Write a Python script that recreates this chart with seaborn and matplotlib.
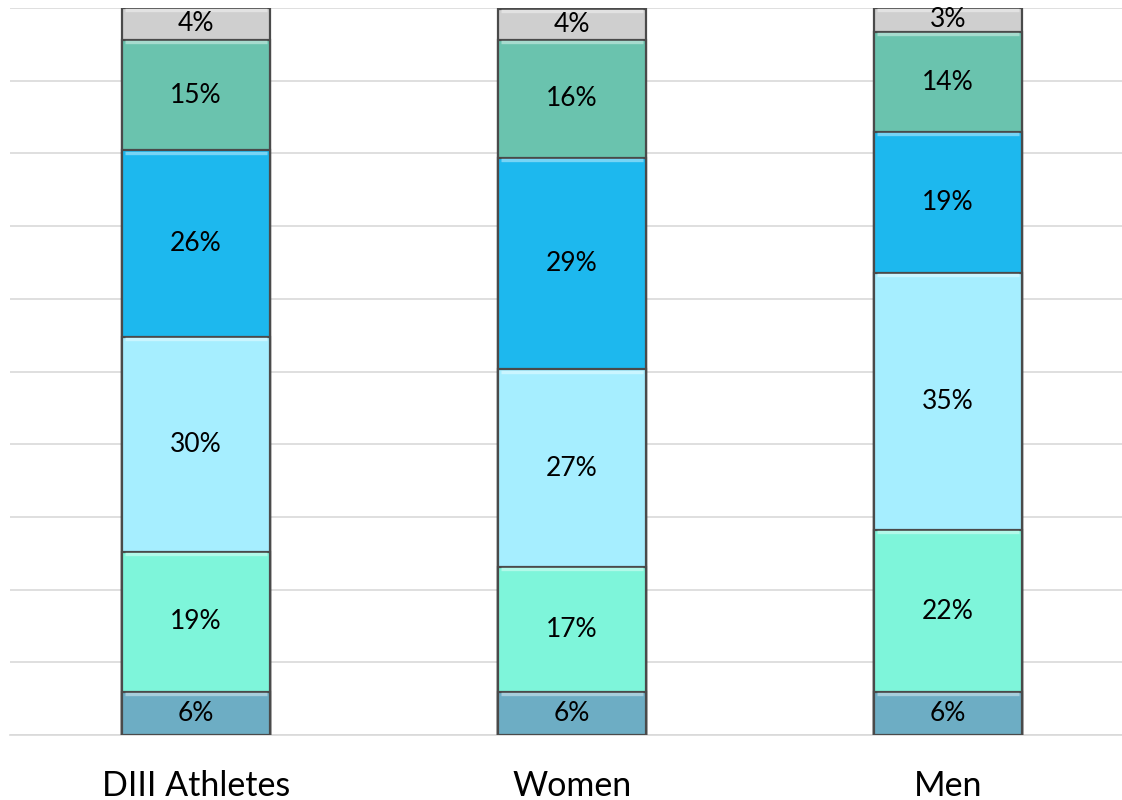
import matplotlib
matplotlib.use("Agg")
import matplotlib.pyplot as plt
import seaborn as sns
import numpy as np
import pandas as pd
from matplotlib.colors import to_rgb

categories = ["DIII Athletes", "Women", "Men"]
seg1 = [5.9, 5.9, 5.9]
seg2 = [19.3, 17.2, 22.3]
seg3 = [29.6, 27.2, 35.4]
seg4 = [25.6, 29.1, 19.3]
seg5 = [15.2, 16.2, 13.8]
seg6 = [4.4, 4.3, 3.3]

series = [seg1, seg2, seg3, seg4, seg5, seg6]
colors = ["#6DADC4", "#7EF5DA", "#A6EEFF", "#1DB8EE", "#6AC3AE", "#CFCFCF"]

sns.set_theme(style="white")
plt.rcParams["font.family"] = ["Lato", "DejaVu Sans"]

fig = plt.figure(figsize=(11.22, 8), dpi=100)
ax = fig.add_axes([10 / 1122, 1 - 735 / 800, 1 - 10 / 1122, (735 - 8) / 800])

vals = np.array(series, dtype=float)
cum = np.cumsum(vals, axis=0)

# draw from top layer down so lower layers cover upper ones
for i in range(len(series) - 1, -1, -1):
    df = pd.DataFrame({"cat": categories, "v": cum[i]})
    n_before = len(ax.patches)
    sns.barplot(data=df, x="cat", y="v", color=colors[i], width=0.394,
                edgecolor="#4A4A4A", linewidth=1.6, saturation=1, ax=ax, zorder=3)
    # bevel highlight along the top edge of each segment
    light = tuple(min(1, c + 0.4 * (1 - c)) for c in to_rgb(colors[i]))
    for p in ax.patches[n_before:]:
        x0 = p.get_x()
        w = p.get_width()
        top = p.get_y() + p.get_height()
        ax.plot([x0 + 0.008, x0 + w - 0.008], [top - 0.3, top - 0.3],
                color=light, linewidth=2.4, zorder=4, solid_capstyle="butt")

# labels
for i in range(len(series)):
    for j in range(len(categories)):
        mid = cum[i][j] - vals[i][j] / 2
        ax.text(j, mid, f"{int(round(vals[i][j]))}%", ha="center", va="center",
                fontsize=19, color="black", zorder=6)

ax.set_ylim(0, 100)
ax.set_xlim(-0.495, 2.463)
ax.set_yticks(np.arange(0, 101, 10))
ax.set_yticklabels([])
ax.yaxis.grid(True, color="#D9D9D9", linewidth=1.2, zorder=0)
ax.set_axisbelow(True)
ax.set_xlabel("")
ax.set_ylabel("")
ax.tick_params(axis="x", length=0, labelsize=24.5, pad=25, labelcolor="black")
ax.tick_params(axis="y", length=0)
for s in ["top", "right", "left"]:
    ax.spines[s].set_visible(False)
ax.spines["bottom"].set_color("#D9D9D9")
ax.spines["bottom"].set_linewidth(1.2)

fig.savefig("out.png", dpi=100)
